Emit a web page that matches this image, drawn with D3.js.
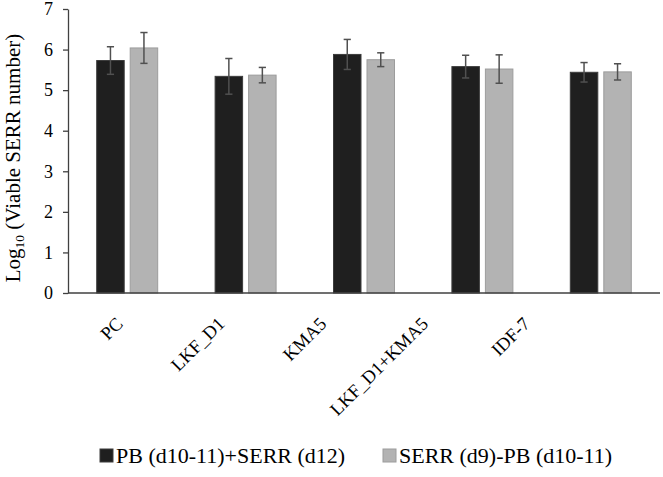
<!DOCTYPE html>
<html>
<head>
<meta charset="utf-8">
<script src="https://cdn.jsdelivr.net/npm/d3@7"></script>
<style>
  html, body { margin: 0; padding: 0; background: #fff; }
  svg { display: block; font-family: "Liberation Serif", "Times New Roman", serif; }
</style>
</head>
<body>
<svg id="chart" width="663" height="477"></svg>
<script>
const categories = ["PC", "LKF_D1", "KMA5", "LKF_D1+KMA5", "IDF-7"];
const seriesNames = ["PB (d10-11)+SERR (d12)", "SERR (d9)-PB (d10-11)"];
const pbSerr = [5.73, 5.34, 5.88, 5.58, 5.44];
const pbSerrErr = [0.34, 0.44, 0.37, 0.28, 0.24];
const serrPb = [6.04, 5.37, 5.75, 5.52, 5.45];
const serrPbErr = [0.38, 0.19, 0.17, 0.35, 0.20];
const yTicks = [0, 1, 2, 3, 4, 5, 6, 7];

(function () {
const colors = { fill: ["#1f1f1f", "#b3b3b3"], stroke: ["#3c3c3c", "#9c9c9c"] };

const svg = d3.select("#chart");
const mLeft = 68, mRight = 660, mTop = 9, mBottom = 293;

const y = d3.scaleLinear().domain([0, 7]).range([mBottom, mTop]);
const x0 = d3.scaleBand().domain(categories).range([mLeft, mRight]).paddingInner(0).paddingOuter(0);
const x1 = d3.scaleBand().domain(seriesNames).range([0, x0.bandwidth()])
  .paddingInner(0.179).paddingOuter(0.857);
const labelX = d3.scalePoint().domain(categories).range([124, 531]);

const rows = categories.map((c, i) => ({
  cat: c,
  vals: [
    { s: seriesNames[0], v: pbSerr[i], e: pbSerrErr[i], k: 0 },
    { s: seriesNames[1], v: serrPb[i], e: serrPbErr[i], k: 1 }
  ]
}));

// y axis
const yAxis = svg.append("g")
  .attr("transform", `translate(${mLeft},0)`)
  .call(d3.axisLeft(y).tickValues(yTicks).tickFormat(d3.format("d")).tickSize(5).tickSizeOuter(0).tickPadding(10));
yAxis.attr("font-family", null);
yAxis.select(".domain").attr("stroke", "#404040").attr("stroke-width", 1.3);
yAxis.selectAll(".tick line").attr("stroke", "#404040").attr("stroke-width", 1.3);
yAxis.selectAll(".tick text").attr("font-size", 18).attr("fill", "#000");

// bars
const groups = svg.append("g").selectAll("g").data(rows).join("g")
  .attr("transform", d => `translate(${x0(d.cat)},0)`);
groups.selectAll("rect").data(d => d.vals).join("rect")
  .attr("x", d => x1(d.s))
  .attr("width", x1.bandwidth())
  .attr("y", d => y(d.v))
  .attr("height", d => y(0) - y(d.v))
  .attr("fill", d => colors.fill[d.k])
  .attr("stroke", d => colors.stroke[d.k])
  .attr("stroke-width", 1);

// error bars
const eb = groups.selectAll("g.err").data(d => d.vals).join("g").attr("class", "err")
  .attr("stroke", "#505050").attr("stroke-width", 1.5);
eb.append("line")
  .attr("x1", d => x1(d.s) + x1.bandwidth() / 2).attr("x2", d => x1(d.s) + x1.bandwidth() / 2)
  .attr("y1", d => y(d.v + d.e)).attr("y2", d => y(d.v - d.e));
eb.append("line")
  .attr("x1", d => x1(d.s) + x1.bandwidth() / 2 - 3.6).attr("x2", d => x1(d.s) + x1.bandwidth() / 2 + 3.6)
  .attr("y1", d => y(d.v + d.e)).attr("y2", d => y(d.v + d.e));
eb.append("line")
  .attr("x1", d => x1(d.s) + x1.bandwidth() / 2 - 3.6).attr("x2", d => x1(d.s) + x1.bandwidth() / 2 + 3.6)
  .attr("y1", d => y(d.v - d.e)).attr("y2", d => y(d.v - d.e));

// x axis line
svg.append("line")
  .attr("x1", mLeft).attr("x2", mRight).attr("y1", y(0)).attr("y2", y(0))
  .attr("stroke", "#404040").attr("stroke-width", 1.3);

// x labels
svg.append("g").selectAll("text").data(categories).join("text")
  .attr("transform", d => `translate(${labelX(d)},${325}) rotate(-45)`)
  .attr("text-anchor", "end")
  .attr("font-size", 18.5)
  .attr("fill", "#000")
  .text(d => d);

// y title
const yt = svg.append("text")
  .attr("transform", `translate(20,${(mTop + mBottom) / 2 + 7}) rotate(-90)`)
  .attr("text-anchor", "middle")
  .attr("font-size", 21)
  .attr("fill", "#000");
yt.append("tspan").text("Log");
yt.append("tspan").attr("font-size", 13.5).attr("dy", 4).text("10");
yt.append("tspan").attr("dy", -4).text(" (Viable SERR number)");

// legend
const legendX = [100, 383];
const lg = svg.append("g").selectAll("g").data(seriesNames).join("g")
  .attr("transform", (d, i) => `translate(${legendX[i]},449)`);
lg.append("rect").attr("width", 13).attr("height", 13)
  .attr("fill", (d, i) => colors.fill[i]).attr("stroke", (d, i) => colors.stroke[i]).attr("stroke-width", 1);
lg.append("text").attr("x", 16).attr("y", 14).attr("font-size", 22).attr("fill", "#000").text(d => d);
})();
</script>
</body>
</html>
